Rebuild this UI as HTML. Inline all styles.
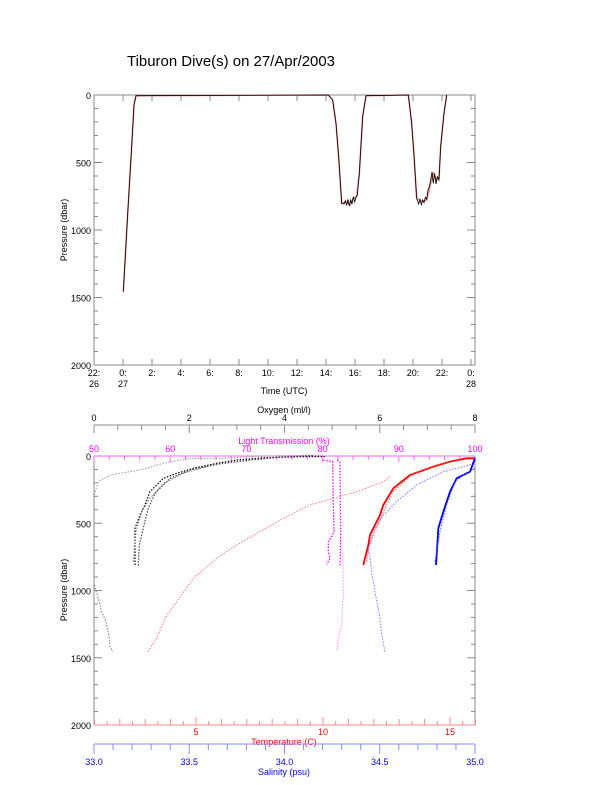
<!DOCTYPE html>
<html><head><meta charset="utf-8"><style>
html,body{margin:0;padding:0;background:#fff;overflow:hidden;}
svg{display:block;font-family:"Liberation Sans",sans-serif;}
.ns{vector-effect:non-scaling-stroke;fill:none;}
</style></head><body>
<svg id="s" width="612" height="785" viewBox="0 0 612 785" xmlns="http://www.w3.org/2000/svg">
<rect width="612" height="785" fill="#fff"/>
<text x="127" y="66" font-size="15" textLength="208" lengthAdjust="spacingAndGlyphs">Tiburon Dive(s) on 27/Apr/2003</text>
<g id="top"></g>
<g id="bot"></g>
<g transform="translate(50,80) scale(0.33333)">
<polyline class="ns" stroke="#e88" stroke-width="1.6" points="220,635 232,420 245,200 252,75 258,47 835,45 848,60 858,130 866,230 875,370 890,365 900,375 910,355 920,350 928,280 938,110 948,47 1075,45 1085,130 1092,225 1100,355 1115,365 1130,360 1140,320 1150,280 1160,300 1167,295 1172,200 1182,100 1190,45"/>
<polyline class="ns" stroke="#000" stroke-width="0.8" points="220,635 232,420 245,200 252,75 258,47 835,45 848,60 858,130 866,230 875,370 882,372 886,362 890,376 894,358 898,378 902,360 906,372 910,350 914,366 918,352 922,345 928,280 938,110 948,47 1075,45 1085,130 1092,225 1100,355 1106,372 1110,358 1114,374 1118,360 1122,368 1126,352 1130,358 1134,330 1138,320 1142,300 1146,276 1150,310 1154,280 1158,312 1162,290 1167,300 1172,200 1182,100 1190,45"/>
</g>
<g transform="translate(50,405) scale(0.33333)" stroke-dasharray="1.5 1.5">
<polyline class="ns" stroke="#999" stroke-width="1" points="133,270 145,230 180,210 270,195 340,175 420,160 520,160 600,155 700,152 820,150"/>
<polyline class="ns" stroke="#777" stroke-width="1" points="133,540 145,580 155,620 168,650 178,700 180,725 188,740"/>
<polyline class="ns" stroke="#000" stroke-width="1.2" points="255,480 255,370 270,330 285,300 300,260 340,220 380,205 430,190 500,175 560,165 650,158 760,155 830,155"/>
<polyline class="ns" stroke="#444" stroke-width="1.2" points="265,482 268,420 282,360 295,310 315,265 360,220 420,195 500,178 600,165 700,156 790,152"/>
<polyline class="ns" stroke="#777" stroke-width="1" points="250,470 258,380 275,320 300,280 340,235 400,205 470,185"/>
<polyline class="ns" stroke="#f0f" stroke-width="1.3" points="820,165 848,170 850,300 852,380 845,395 835,410 835,440 840,460 830,478"/>
<polyline class="ns" stroke="#f0f" stroke-width="1.3" points="862,165 870,172 872,400 870,482"/>
<polyline class="ns" stroke="#f8f" stroke-width="1" points="870,400 878,460 880,560 875,660 865,700 860,740"/>
<polyline class="ns" stroke="#f77" stroke-width="1" points="293,740 320,700 345,640 380,590 430,520 500,460 560,420 630,380 700,340 780,300 850,280 920,260 1000,230 1020,215"/>
<polyline class="ns" stroke="#f00" stroke-width="1.8" stroke-dasharray="none" points="940,480 945,460 955,420 960,390 970,370 990,330 1000,300 1030,250 1080,210 1150,185 1200,170 1250,160 1275,160"/>
<polyline class="ns" stroke="#f55" stroke-width="1" points="950,470 958,420 975,380 1000,320 1030,260 1090,205 1160,180 1230,165"/>
<polyline class="ns" stroke="#77f" stroke-width="1" points="1005,740 995,690 990,640 975,560 965,500 960,460 955,430 970,380 1000,330 1040,290 1100,240 1180,200 1260,180 1275,170"/>
<polyline class="ns" stroke="#00f" stroke-width="1.8" stroke-dasharray="none" points="1158,480 1162,420 1165,370 1180,320 1200,260 1220,220 1260,200 1275,160"/>
<polyline class="ns" stroke="#55f" stroke-width="1" points="1155,470 1170,380 1190,300 1215,230 1240,210 1275,190"/>
</g>
</svg>
<script>
const NS="http://www.w3.org/2000/svg";
function el(p,t,a,txt){const e=document.createElementNS(NS,t);for(const k in a)e.setAttribute(k,a[k]);if(txt!=null)e.textContent=txt;p.appendChild(e);return e;}
function L(p,x1,y1,x2,y2,c){el(p,"line",{x1,y1,x2,y2,stroke:c||"#888","stroke-width":1});}
function T(p,x,y,s,c,anc,fs){el(p,"text",{x,y,fill:c||"#000","font-size":fs||9,"text-anchor":anc||"middle"},s);}
const X0=94,X1=475;
const tp=document.getElementById("top");
const Y0=95,Y1=365;
el(tp,"rect",{x:X0,y:Y0,width:X1-X0,height:Y1-Y0,fill:"none",stroke:"#888"});
for(let p=0;p<=2000;p+=100){const y=Y0+p*0.135;const l=p%500==0?8:4;L(tp,X0,y,X0+l,y);L(tp,X1,y,X1-l,y);}
[0,500,1000,1500,2000].forEach(p=>T(tp,X0-3,Y0+p*0.135+4,String(p),"#000","end"));
const hx=h=>123+h*14.5;
for(let h=-2;h<=24;h+=2){const x=hx(h);L(tp,x,Y1,x,Y1-6);L(tp,x,Y0,x,Y0+6);
 let a,b;if(h==-2){a="22:";b="26";}else if(h==0){a="0:";b="27";}else if(h==24){a="0:";b="28";}else{a=h+":";b="";}
 T(tp,x,Y1+11,a);if(b)T(tp,x,Y1+22,b);}
T(tp,284,394,"Time (UTC)");
el(tp,"text",{x:0,y:0,"font-size":9,"text-anchor":"middle",transform:"translate(67,230) rotate(-90)"},"Pressure (dbar)");
const bp=document.getElementById("bot");
const B0=456,B1=725;
L(bp,X0,B0,X0,B1);L(bp,X1,B0,X1,B1);
for(let p=0;p<=2000;p+=100){const y=B0+p*0.1345;const l=p%500==0?8:4;L(bp,X0,y,X0+l,y);L(bp,X1,y,X1-l,y);}
[0,500,1000,1500,2000].forEach(p=>T(bp,X0-3,B0+p*0.1345+4,String(p),"#000","end"));
el(bp,"text",{x:0,y:0,"font-size":9,"text-anchor":"middle",transform:"translate(67,590) rotate(-90)"},"Pressure (dbar)");
L(bp,X0,425,X1,425);
for(let o=0;o<=8;o+=0.5){const x=X0+o*47.625;L(bp,x,425,x,o%2==0?433:430);}
for(let o=0;o<=8;o+=2)T(bp,X0+o*47.625,421,String(o));
T(bp,284,413,"Oxygen (ml/l)");
L(bp,X0,B0,X1,B0,"#f6f");
for(let v=50;v<=100;v+=2){const x=X0+(v-50)*7.62;L(bp,x,B0,x,B0+(v%10==0?6:4),"#f6f");}
for(let v=50;v<=100;v+=10)T(bp,X0+(v-50)*7.62,452,String(v),"#f0f");
T(bp,284,444,"Light Transmission (%)","#f0f");
L(bp,X0,B1,X1,B1,"#f88");
for(let t=1.5;t<=16;t+=1){const x=69+t*25.4;L(bp,x,B1,x,B1-4,"#f88");}
for(let t=1;t<=16;t+=1){const x=69+t*25.4;L(bp,x,B1,x,B1-(t%5==0?8:6),"#f88");}
[5,10,15].forEach(t=>T(bp,69+t*25.4,735,String(t),"#f00"));
T(bp,284,745,"Temperature (C)","#f00");
L(bp,X0,744,X1,744,"#88f");
for(let s=0;s<=20;s++){const x=X0+s*19.05;L(bp,x,744,x,744+(s%5==0?10:6),"#88f");}
["33.0","33.5","34.0","34.5","35.0"].forEach((s,i)=>T(bp,X0+i*95.25,765,s,"#00f"));
T(bp,284,775,"Salinity (psu)","#00f");
</script>
</body></html>
